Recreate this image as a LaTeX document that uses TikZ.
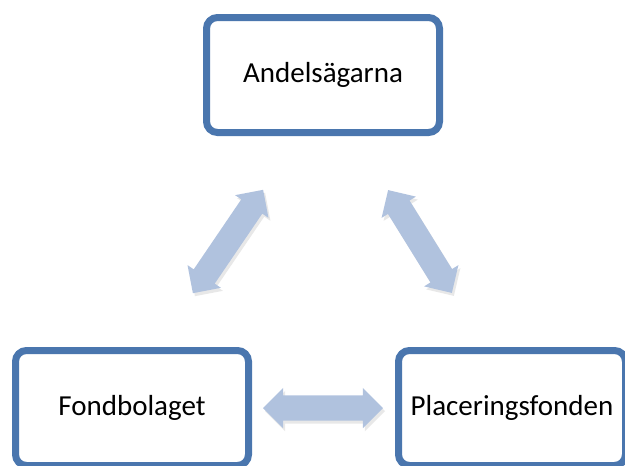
\documentclass[tikz,border=0pt]{standalone}
\usepackage{fontspec}
\setmainfont{Carlito}
\usetikzlibrary{shapes.arrows,shadows}
\definecolor{boxblue}{RGB}{74,118,174}
\definecolor{arrblue}{RGB}{176,194,222}
\tikzset{
  entity/.style={draw=boxblue, line width=7pt, fill=white, rounded corners=11pt,
    minimum width=233pt, minimum height=115pt, inner sep=0pt,
    font=\fontsize{29}{34}\selectfont,
    drop shadow={shadow xshift=2pt, shadow yshift=-3pt, opacity=0.25}},
  link/.style={double arrow, fill=arrblue, draw=none,
    inner xsep=0pt, inner ysep=12.5pt, minimum width=0pt,
    double arrow head extend=7.5pt,
    drop shadow={shadow xshift=2pt, shadow yshift=-3pt, opacity=0.18}}
}
\begin{document}
\begin{tikzpicture}[x=1pt,y=-1pt]
\useasboundingbox (0,0) rectangle (625,466);
\node[entity] (A) at (323,75) {Andelsägarna};
\node[entity] (F) at (132,408) {Fondbolaget};
\node[entity, minimum width=227pt] (P) at (512,408) {Placeringsfonden};
\node[link, minimum height=125pt, rotate=55.8] (AF) at (228,241.5) {};
\node[link, minimum height=121pt, rotate=-58.2] (AP) at (420,241.5) {};
\node[link, minimum height=120pt] (FP) at (323,408) {};
\end{tikzpicture}
\end{document}
